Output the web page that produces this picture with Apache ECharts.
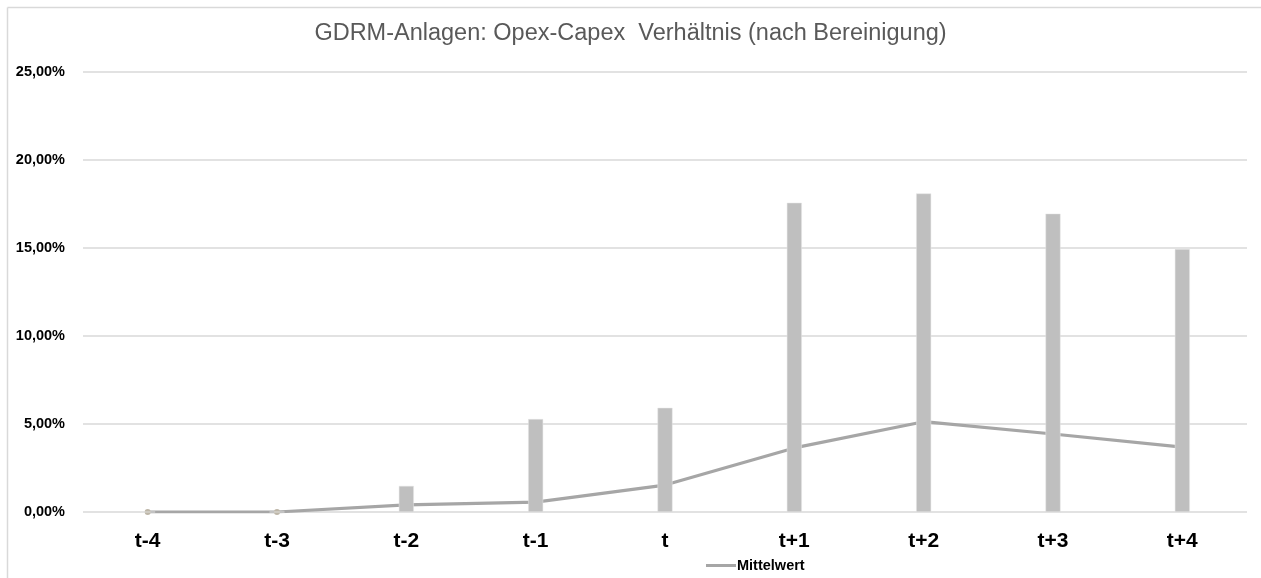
<!DOCTYPE html>
<html><head><meta charset="utf-8">
<script src="https://cdn.jsdelivr.net/npm/echarts@6/dist/echarts.min.js"></script>
<style>html,body{margin:0;padding:0;background:#fff}#c{width:1261px;height:578px}</style>
</head><body><div id="c"></div>
<script>
const categories = ['t-4','t-3','t-2','t-1','t','t+1','t+2','t+3','t+4'];
const barValues = [0, 0, 1.48, 5.28, 5.92, 17.57, 18.1, 16.95, 14.94];
const meanValues = [0, 0, 0.40, 0.56, 1.53, 3.64, 5.13, 4.43, 3.69];
const yTicks = {min: 0, max: 25, interval: 5};
const titleText = 'GDRM-Anlagen: Opex-Capex  Verhältnis (nach Bereinigung)';

const chart = echarts.init(document.getElementById('c'), null, {renderer: 'canvas'});
chart.setOption({
  animation: false,
  backgroundColor: '#fff',
  textStyle: {fontFamily: 'Liberation Sans, Arial, sans-serif'},
  title: {text: titleText, left: 'center', top: 22, padding: 0,
    textStyle: {fontSize: 23.5, fontWeight: 'normal', color: '#595959', fontFamily: 'Liberation Sans, Arial, sans-serif'}},
  graphic: [
    {type: 'line', shape: {x1: 7.5, y1: 7.5, x2: 1261, y2: 7.5}, style: {stroke: '#d9d9d9', lineWidth: 1.5}, silent: true},
    {type: 'line', shape: {x1: 7.5, y1: 7.5, x2: 7.5, y2: 578}, style: {stroke: '#d9d9d9', lineWidth: 1.5}, silent: true}
  ],
  grid: {left: 83, right: 14, top: 72, bottom: 66, containLabel: false},
  legend: {data: [{name: 'Mittelwert', icon: 'path://M0,0 L30,0 L30,3 L0,3 Z'}], left: 701, top: 553, itemWidth: 30, itemHeight: 3, itemGap: 5,
    itemStyle: {color: '#a6a6a6'},
    textStyle: {fontSize: 14.5, fontWeight: 'bold', color: '#000', padding: [0,0,0,-4]}},
  xAxis: {type: 'category', data: categories,
    axisLine: {show: false}, axisTick: {show: false},
    axisLabel: {fontSize: 21, fontWeight: 'bold', color: '#000', margin: 19}},
  yAxis: {type: 'value', min: yTicks.min, max: yTicks.max, interval: yTicks.interval,
    axisLine: {show: false}, axisTick: {show: false},
    splitLine: {lineStyle: {color: '#d9d9d9', width: 1.5}},
    axisLabel: {fontSize: 14.5, fontWeight: 'bold', color: '#000', margin: 18,
      formatter: v => v.toFixed(2).replace('.', ',') + '%'}},
  series: [
    {name: 'Mittelwert', type: 'line', data: meanValues, z: 2,
      symbol: 'circle', symbolSize: 6,
      itemStyle: {color: '#bdb6a8'},
      lineStyle: {color: '#a6a6a6', width: 3.2}},
    {name: 'Werte', type: 'bar', data: barValues, barWidth: 15, z: 3,
      itemStyle: {color: '#bfbfbf', borderColor: '#e6e6e6', borderWidth: 0.5}}
  ]
});
</script></body></html>
